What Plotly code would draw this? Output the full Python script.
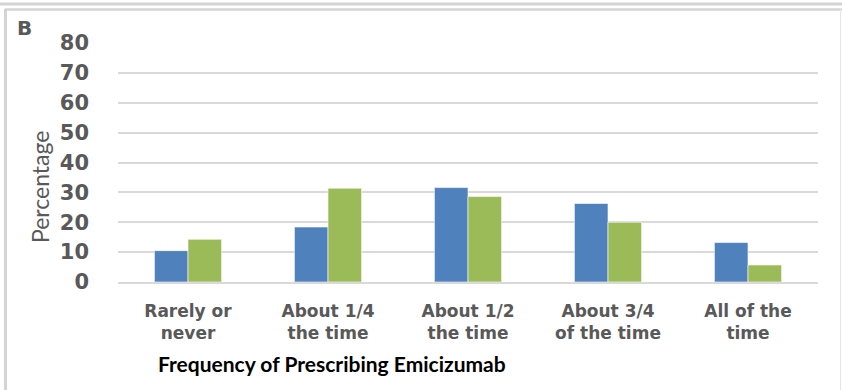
import plotly.graph_objects as go

# Survey responses: how often emicizumab is prescribed
categories = ["Rarely or never", "About 1/4 the time", "About 1/2 the time",
              "About 3/4 of the time", "All of the time"]
tick_labels = ["Rarely or<br>never", "About 1/4<br>the time", "About 1/2<br>the time",
               "About 3/4<br>of the time", "All of the<br>time"]
group_a = [10.5, 18.4, 31.6, 26.3, 13.2]
group_b = [14.3, 31.4, 28.6, 20.0, 5.7]
y_ticks = [0, 10, 20, 30, 40, 50, 60, 70, 80]

W, H = 842, 390
L, R, T, B = 118, 24, 43, 108
PW, PH = W - L - R, H - T - B


def px(x):
    return (x - L) / PW


def py(y):
    return (H - B - y) / PH


fig = go.Figure()
fig.add_bar(x=categories, y=group_a, marker=dict(color="#4F81BD", line=dict(color="#ffffff", width=0.6)))
fig.add_bar(x=categories, y=group_b, marker=dict(color="#9BBB59", line=dict(color="#ffffff", width=0.6)))

grey = "#595959"
frame = "#d4d4d4"
shapes = [
    dict(type="line", xref="paper", yref="paper", x0=px(0), x1=px(W), y0=py(4), y1=py(4),
         line=dict(color=frame, width=3)),
    dict(type="line", xref="paper", yref="paper", x0=px(5), x1=px(W), y0=py(9.5), y1=py(9.5),
         line=dict(color=frame, width=2.5)),
    dict(type="line", xref="paper", yref="paper", x0=px(5.5), x1=px(5.5), y0=py(9), y1=py(H),
         line=dict(color=frame, width=3)),
    dict(type="line", xref="paper", yref="paper", x0=px(840.5), x1=px(840.5), y0=py(9), y1=py(H),
         line=dict(color="#e6e6e6", width=1)),
]

annotations = [
    dict(text="B", xref="paper", yref="paper", x=px(25), y=py(28), showarrow=False,
         font=dict(family="DejaVu Sans", size=20, color=grey, weight="bold"),
         xanchor="center", yanchor="middle"),
    dict(text="Percentage", xref="paper", yref="paper", x=px(40), y=py(187), showarrow=False,
         textangle=-90, font=dict(family="Lato", size=23, color=grey),
         xanchor="center", yanchor="middle"),
    dict(text="Frequency of Prescribing Emicizumab", xref="paper", yref="paper",
         x=px(332), y=py(363), showarrow=False,
         font=dict(family="Lato", size=21, color="#000000", weight="bold"),
         xanchor="center", yanchor="middle"),
]

fig.update_layout(
    width=W, height=H,
    margin=dict(l=L, r=R, t=T, b=B),
    paper_bgcolor="white", plot_bgcolor="white",
    barmode="group", bargap=0.52, bargroupgap=0,
    showlegend=False,
    shapes=shapes, annotations=annotations,
    xaxis=dict(
        tickvals=categories, ticktext=tick_labels,
        tickfont=dict(family="DejaVu Sans", size=17, color=grey, weight="bold"),
        showgrid=False, showline=True, linecolor="#d9d9d9", linewidth=1.5,
        ticks="", ticklabelstandoff=13,
    ),
    yaxis=dict(
        range=[0, 80], tickvals=y_ticks,
        tickfont=dict(family="DejaVu Sans", size=21, color=grey, weight="bold"),
        showgrid=True, gridcolor="#d9d9d9", gridwidth=1.5,
        zeroline=False, showline=False, ticks="", ticklabelstandoff=28,
    ),
)

fig.write_html("out.html")
